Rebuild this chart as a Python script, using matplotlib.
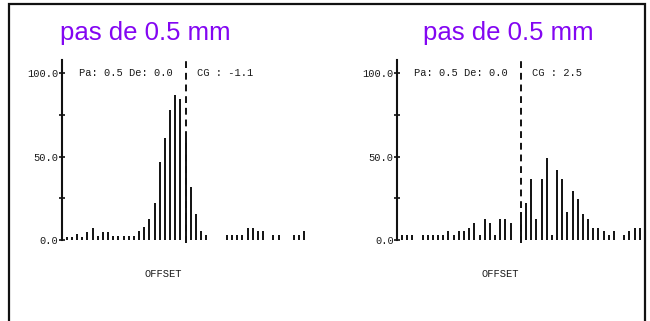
import numpy as np
import matplotlib
matplotlib.use("Agg")
import matplotlib.pyplot as plt
from matplotlib.patches import Rectangle

# Donnees (pas de 0.5 mm, 47 positions, indice 23 = offset 0)
STEP = 0.5
left_values = [2, 2, 3.5, 2, 4.5, 7.4, 2.4, 5, 5, 2.4, 2.4, 2.4, 2.4, 2.6,
               5.6, 7.6, 12.6, 22, 47, 61, 78, 87, 84.5, 61, 31.5, 15.4, 5.4, 3,
               0, 0, 0, 3, 3, 3, 3, 7.4, 7.4, 5.4, 5.4, 0, 3, 3, 0, 0, 3, 3, 5.4]
right_values = [2.8, 2.8, 2.8, 0, 2.8, 2.8, 2.8, 2.8, 2.8, 5.2, 2.8, 5.2, 5.2,
                7.4, 10.4, 2.8, 12.6, 10.4, 2.8, 12.6, 12.6, 10.4, 0, 17, 22,
                36.6, 12.6, 36.6, 49.4, 2.8, 42, 36.6, 16.8, 29.4, 24.4, 15.4,
                12.6, 7.4, 7.4, 5.2, 2.8, 5.2, 0, 2.8, 5.2, 7.4, 7.4]
cg_values = [-1.1, 2.5]
titles = ["pas de 0.5 mm", "pas de 0.5 mm"]
y_ticks = [0, 50, 100]
y_minor = [25, 75]

W, H = 650, 321
fig = plt.figure(figsize=(W / 100, H / 100), dpi=100, facecolor="white")

# cadre noir
fig.patches.append(Rectangle((9 / W, -0.05), (645 - 9) / W, 1.05 - 4 / H,
                             transform=fig.transFigure, fill=False,
                             ec="#111111", lw=1.6))

mono = "Liberation Mono"
purple = "#8306f2"
px_per_mm = 5.17 / STEP

for k, (vals, cg, title) in enumerate(zip([left_values, right_values], cg_values, titles)):
    vals = np.array(vals)
    offs = (np.arange(len(vals)) - 23) * STEP
    x0 = offs[0] - 0.45
    x1 = offs[-1] + 1.0
    ax_left = [62, 397.3][k]
    ax = fig.add_axes([ax_left / W, (H - 240) / H,
                       (x1 - x0) * px_per_mm / W, 180 / H])
    ax.set_xlim(x0, x1)
    ax.set_ylim(0, 107.8)
    ax.patch.set_alpha(0)

    ax.vlines(offs, 0, vals, color="#111111", lw=1.4)
    ax.vlines(0, -1.5, 107.8, color="#111111", lw=1.4,
              linestyles=(0, (3.5, 2.5)), clip_on=False)

    for s in ["top", "right", "bottom"]:
        ax.spines[s].set_visible(False)
    ax.spines["left"].set_linewidth(1.5)
    ax.spines["left"].set_color("#111111")
    ax.set_xticks([])
    ax.set_yticks(y_ticks)
    ax.set_yticks(y_minor, minor=True)
    ax.set_yticklabels([f"{v:.1f}" for v in y_ticks], fontsize=7.5,
                       family=mono, color="#1a1a1a")
    ax.tick_params(axis="y", which="both", direction="inout", length=5,
                   width=1.2, color="#111111", pad=0)

    ax.text(x0 + 1.6, 100, "Pa: 0.5 De: 0.0", fontsize=7.5, family=mono,
            color="#1a1a1a", va="center", ha="left")
    ax.text(1.1, 100, f"CG : {cg}", fontsize=7.5, family=mono,
            color="#1a1a1a", va="center", ha="left")

    fig.text([145, 508][k] / W, 1 - 33 / H, title, fontsize=18.5,
             family="Liberation Sans", color=purple, ha="center", va="center")
    fig.text([163, 500][k] / W, 1 - 274 / H, "OFFSET", fontsize=7.5,
             family=mono, color="#1a1a1a", ha="center", va="center")

fig.savefig("out.png", dpi=100, facecolor="white")
